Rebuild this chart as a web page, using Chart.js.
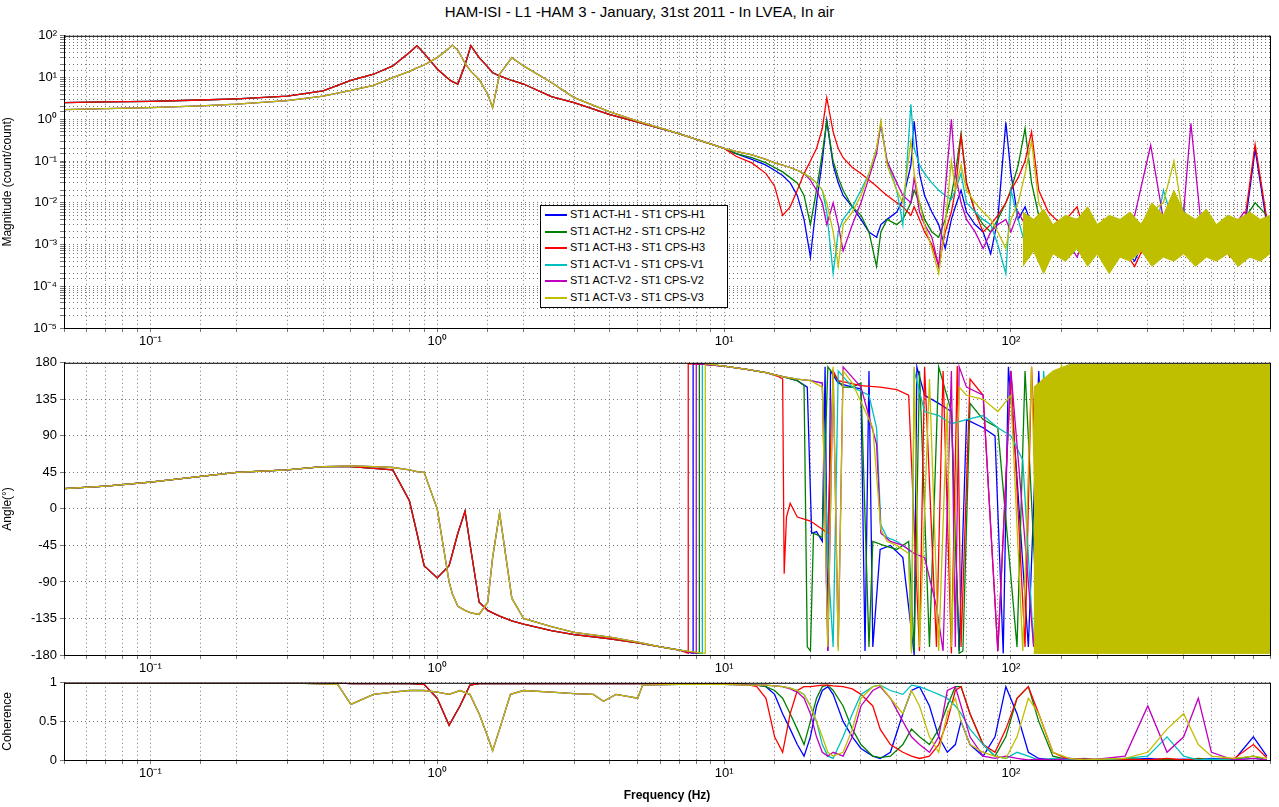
<!DOCTYPE html>
<html>
<head>
<meta charset="utf-8">
<script src="https://cdn.jsdelivr.net/npm/chart.js@4"></script>
<style>
  body{margin:0;background:#fff;font-family:"Liberation Sans",Arial,sans-serif;}
  #wrap{position:relative;width:1279px;height:807px;overflow:hidden;}
  canvas{position:absolute;left:0;}
  #title{position:absolute;top:3px;left:0;width:1279px;text-align:center;font-size:15px;color:#000;}
  #legend{position:absolute;left:540px;top:205px;width:186px;height:101px;background:#fff;border:1px solid #000;font-size:11px;}
  #legend div{height:16.5px;line-height:16.5px;padding-left:4px;white-space:nowrap;}
  #legend span{display:inline-block;width:22px;height:2px;vertical-align:middle;margin-right:3px;}
</style>
</head>
<body>
<div id="wrap">
  <div id="title">HAM-ISI - L1 -HAM 3 - January, 31st 2011 - In LVEA, In air</div>
  <canvas id="mag" width="1279" height="330" style="top:25px"></canvas>
  <canvas id="pha" width="1279" height="330" style="top:352px"></canvas>
  <canvas id="coh" width="1279" height="135" style="top:672px"></canvas>
  <div id="legend"></div>
</div>
<script>
// ===== Data =====
const seriesNames = ["ST1 ACT-H1 - ST1 CPS-H1","ST1 ACT-H2 - ST1 CPS-H2","ST1 ACT-H3 - ST1 CPS-H3",
                     "ST1 ACT-V1 - ST1 CPS-V1","ST1 ACT-V2 - ST1 CPS-V2","ST1 ACT-V3 - ST1 CPS-V3"];
const seriesColors = ["#0000ff","#008000","#ff0000","#00bfbf","#bf00bf","#bfbf00"];

// magnitude, low band (shared shape for H and V groups)
const fLow = [0.05,0.07,0.1,0.15,0.2,0.3,0.4,0.5,0.6,0.7,0.8,0.85,0.9,1.0,1.1,1.13,1.18,1.25,1.31,1.4,1.5,1.56,1.65,1.82,2,2.5,3,4,5,7,10];
const magLowH = [2.5,2.6,2.7,2.9,3.1,3.6,4.8,8.5,12,19,40,58,38,16,9,8,7,20,58,30,18,13,11,8.5,7,3.5,2.5,1.3,0.85,0.45,0.2];
const magLowV = [1.7,1.8,1.9,2.1,2.3,2.8,3.6,4.9,6.5,10,14,17,20,30,50,60,45,22,14,9,4,1.9,12,30,19,7.6,3.3,1.5,0.9,0.45,0.2];

// magnitude, high band
const fHigh = [11,12.5,14,15,16,17,18,19,20,21, 22,22.8,24,25,26,28,30,32,34,35.2, 37,40,42,44.8,46,48,50,53,56,59,
  62,64,67,70,75,80,85,90,96,100, 106,112,118,125,135,150,170,190,210,240, 270,307,340,370,400,424,460,520,580,650, 710,780];
const magH1 = [0.15,0.11,0.08,0.06,0.045,0.03,0.015,0.004,0.0005,0.01, 0.1,0.95,0.08,0.03,0.015,0.008,0.004,0.002,0.0015,0.003,
  0.004,0.006,0.012,0.08,0.9,0.05,0.015,0.006,0.003,0.0008, 0.004,0.008,0.02,0.006,0.003,0.002,0.0006,0.004,0.85,0.05,
  0.004,0.008,0.003,0.001,0.002,0.0006,0.002,0.0008,0.002,0.001, 0.0004,0.003,0.001,0.002,0.0008,0.003,0.0009,0.002,0.0007,0.002, 0.19,0.003];
const magH2 = [0.15,0.12,0.09,0.07,0.055,0.04,0.03,0.015,0.003,0.02, 0.15,0.9,0.1,0.04,0.02,0.008,0.005,0.002,0.0003,0.002,
  0.004,0.003,0.004,0.01,0.02,0.01,0.004,0.002,0.0015,0.004, 0.015,0.05,0.45,0.03,0.006,0.003,0.002,0.004,0.01,0.02,
  0.08,0.6,0.03,0.005,0.003,0.001,0.004,0.001,0.003,0.0008, 0.002,0.001,0.003,0.0009,0.004,0.002,0.003,0.0008,0.002,0.004, 0.01,0.005];
const magH3 = [0.13,0.09,0.05,0.025,0.005,0.008,0.02,0.05,0.1,0.2, 0.6,3.3,0.5,0.2,0.12,0.07,0.05,0.035,0.025,0.02,
  0.015,0.01,0.008,0.005,0.008,0.004,0.002,0.001,0.0003,0.002, 0.006,0.02,0.4,0.03,0.006,0.002,0.003,0.005,0.01,0.02,
  0.04,0.1,0.5,0.02,0.006,0.003,0.008,0.0006,0.004,0.001, 0.0003,0.002,0.0008,0.003,0.001,0.004,0.0007,0.002,0.0005,0.003, 0.25,0.004];
const magV1 = [0.17,0.14,0.11,0.09,0.08,0.07,0.06,0.05,0.04,0.03, 0.02,0.006,0.0002,0.002,0.004,0.008,0.02,0.05,0.2,0.7,
  0.1,0.02,0.003,2.3,0.2,0.08,0.05,0.03,0.02,0.015, 0.012,0.02,0.05,0.01,0.006,0.004,0.003,0.001,0.0002,0.02,
  0.004,0.001,0.003,0.0006,0.002,0.0007,0.002,0.0005,0.002,0.0006, 0.003,0.0004,0.02,0.003,0.008,0.0005,0.002,0.0007,0.003,0.0006, 0.002,0.0008];
const magV2 = [0.17,0.14,0.11,0.09,0.08,0.07,0.06,0.05,0.035,0.02, 0.01,0.003,0.01,0.003,0.0007,0.003,0.01,0.04,0.15,0.8,
  0.1,0.03,0.015,0.01,0.04,0.006,0.003,0.0015,0.0003,0.02, 1.0,0.05,0.01,0.004,0.002,0.0008,0.002,0.003,0.004,0.002,
  0.006,0.003,0.001,0.002,0.0006,0.002,0.0005,0.003,0.0008,0.002, 0.005,0.24,0.004,0.001,0.006,0.8,0.003,0.0008,0.002,0.006, 0.003,0.001];
const magV3 = [0.17,0.14,0.11,0.09,0.08,0.07,0.06,0.05,0.04,0.03, 0.02,0.01,0.002,0.0003,0.003,0.006,0.015,0.05,0.2,0.9,
  0.08,0.02,0.01,0.3,0.05,0.01,0.003,0.0008,0.0002,0.003, 0.1,0.02,0.08,0.02,0.01,0.006,0.004,0.002,0.0008,0.004,
  0.01,0.05,0.3,0.01,0.003,0.0009,0.003,0.0006,0.002,0.0007, 0.002,0.006,0.01,0.1,0.004,0.001,0.003,0.0006,0.002,0.0005, 0.002,0.0009];
// dense V3 noise floor envelope
const magBandF  = [110,120,130,140,155,170,185,200,220,240, 260,285,310,340,370,400,440,480,520,570, 620,680,740,800];
const magBandHi = [0.006,0.004,0.007,0.003,0.005,0.004,0.008,0.003,0.005,0.004, 0.006,0.003,0.01,0.005,0.02,0.006,0.004,0.007,0.003,0.005, 0.004,0.006,0.004,0.005];
const magBandLo = [0.0003,0.0007,0.0002,0.0006,0.0004,0.0008,0.0003,0.0006,0.0002,0.0005, 0.0004,0.0007,0.0003,0.0005,0.0004,0.0006,0.0003,0.0005,0.0004,0.0006, 0.0003,0.0005,0.0004,0.0006];

// phase, low band
const fPhLow = [0.05,0.07,0.1,0.15,0.2,0.3,0.4,0.5,0.6,0.7,0.8,0.85,0.9,1.0,1.1,1.13,1.18,1.25,1.31,1.4,1.5,1.56,1.65,1.82,2,2.5,3,4,5,6,7];
const phLowH = [25,28,33,40,45,48,52,52,50,48,10,-30,-70,-85,-70,-55,-30,-3,-50,-115,-125,-128,-132,-138,-142,-150,-155,-160,-165,-170,-174];
const phLowV = [25,28,33,40,45,48,52,53,52,51,48,46,45,0,-90,-105,-120,-125,-128,-130,-115,-60,-5,-110,-135,-145,-152,-158,-164,-170,-174];

// phase, high band [Hz, deg]
const phH1 = [[7.8,-178],[7.8,179],[8.5,178],[10,176],[12,172],[14,168],[16,163],[18,158],[19.5,150],[20.2,-30],[21,-28],[22,-40],[22.5,175],[23,-175],[23.5,170],[25,155],[28,150],[30,148],[31,-175],[32,170],[33,-170],[35,-50],[38,-45],[42,-60],[46,-180],[47,175],[50,140],[56,130],[62,120],[66,-175],[70,110],[80,100],[88,90],[94,-178],[98,175],[104,60],[115,-170],[125,170],[140,-175],[160,165],[180,-170],[200,175],[250,-165],[300,170],[350,-175],[400,160],[500,-170],[600,175],[700,-160],[780,170]];
const phH2 = [[8.2,-178],[8.2,179],[10,176],[12,172],[14,168],[16,163],[18,158],[19,152],[19.5,-170],[20,-175],[20.5,-30],[22,-35],[23,175],[26,150],[28,150],[30,155],[32,-170],[33,-40],[36,-45],[40,-50],[44,-40],[46,-175],[48,170],[52,-170],[56,175],[62,120],[66,-178],[68,-175],[72,130],[80,110],[90,100],[105,-170],[112,170],[125,-170],[140,165],[170,-175],[200,170],[260,-170],[320,165],[400,-175],[480,170],[560,-170],[650,175],[780,-165]];
const phH3 = [[7.5,-178],[7.5,179],[8.5,178],[10,176],[12,172],[14,168],[15.5,163],[16,160],[16.2,-80],[16.5,-10],[17,7],[18,-10],[20,-15],[22,-25],[23,-30],[24,170],[25,158],[30,152],[35,150],[40,147],[44,140],[48,-175],[50,175],[55,-170],[58,170],[62,-178],[65,176],[67,-170],[72,160],[80,140],[90,-175],[100,170],[112,-170],[118,175],[130,-178],[150,170],[180,-175],[220,165],[270,-170],[330,175],[400,-170],[480,165],[560,-175],[650,170],[780,-170]];
const phV1 = [[8.4,-178],[8.4,179],[10,176],[12,172],[14,168],[16,163],[18,160],[20,158],[22,155],[23,-60],[24,-170],[25,170],[28,150],[32,140],[34,100],[35.2,-20],[37,-35],[40,-40],[44,-50],[45,-175],[46,170],[50,120],[56,115],[62,105],[70,110],[80,115],[90,100],[100,90],[110,60],[120,-170],[130,170],[150,-175],[180,170],[220,-170],[270,175],[330,-165],[400,170],[480,-175],[560,165],[650,-170],[780,170]];
const phV2 = [[8,-178],[8,179],[10,176],[12,172],[14,168],[16,163],[18,160],[20,158],[22,155],[23,-175],[24,170],[25,-170],[26,175],[30,150],[34,80],[35.2,-30],[38,-40],[42,-45],[46,-55],[50,-60],[55,-120],[58,-175],[62,170],[64,-170],[66,175],[70,150],[80,140],[90,-175],[100,170],[120,-170],[140,165],[170,-175],[210,170],[260,-165],[300,175],[307,-170],[350,170],[424,-175],[450,170],[520,-170],[600,175],[700,-165],[780,170]];
const phV3 = [[8.6,-178],[8.6,179],[10,176],[12,172],[14,168],[16,163],[18,160],[20,158],[22,150],[23,-170],[24,175],[25,-175],[26,170],[28,155],[33,100],[35.2,-25],[37,-40],[40,-45],[44,-55],[45,-178],[46,175],[48,-170],[52,160],[56,-175],[60,130],[62,-170],[66,150],[70,140],[80,135],[90,120],[100,140],[110,-175],[118,175],[125,-178],[150,178],[200,-178],[300,178],[400,-178],[500,178],[600,-178],[700,178],[780,-178]];
// wrapped-phase envelope of V3 above ~120 Hz
const phBandF  = [120,140,160,800];
const phBandHi = [150,170,178,178];
const phBandLo = [-178,-178,-178,-178];

// coherence
const fCohLow = [0.05,0.1,0.2,0.3,0.45,0.5,0.6,0.7,0.8,0.9, 1.0,1.1,1.2,1.3,1.4,1.5,1.56,1.65,1.8,2, 2.5,3,3.5,3.8,4.2,5,5.2,7,10,12];
const cohLowH = [1,1,1,1,1,0.99,0.99,0.99,0.99,0.98, 0.8,0.45,0.7,0.97,0.99,0.99,0.99,0.99,0.99,0.99, 0.99,0.99,0.99,0.99,0.99,0.99,0.99,0.99,0.99,0.98];
const cohLowV = [1,1,1,1,0.98,0.72,0.85,0.88,0.9,0.9, 0.88,0.85,0.9,0.85,0.6,0.3,0.12,0.4,0.85,0.9, 0.88,0.86,0.85,0.76,0.85,0.8,0.97,0.98,0.98,0.97];
const fCohHigh = [13,14,15,16,17,18,19,20,21,22, 23,24,26,28,30,33,35,38,42,45, 48,52,56,60,64,67,72,80,88,96, 105,115,125,140,160,180,200,250,300,350, 400,450,500,600,700,780];
const cohH1 = [0.97,0.95,0.85,0.6,0.4,0.2,0.05,0.3,0.7,0.9, 0.95,0.85,0.5,0.3,0.15,0.05,0.02,0.1,0.6,0.9, 0.95,0.7,0.3,0.1,0.2,0.5,0.2,0.05,0.3,0.95, 0.6,0.1,0.02,0,0.02,0,0.01,0,0.02,0, 0.01,0,0.02,0,0.3,0.05];
const cohH2 = [0.97,0.95,0.9,0.8,0.6,0.4,0.2,0.5,0.8,0.95, 0.97,0.9,0.7,0.4,0.2,0.05,0.03,0.05,0.2,0.4, 0.3,0.2,0.4,0.7,0.95,0.95,0.6,0.2,0.05,0.3, 0.8,0.95,0.5,0.05,0,0.01,0,0.02,0,0.01, 0,0.02,0,0.01,0.05,0];
const cohH3 = [0.95,0.8,0.3,0.1,0.6,0.9,0.95,0.95,0.96,0.97, 0.97,0.96,0.95,0.92,0.85,0.7,0.4,0.2,0.1,0.05, 0.02,0.05,0.2,0.5,0.9,0.95,0.6,0.2,0.1,0.4, 0.8,0.95,0.6,0.1,0,0.02,0,0.01,0,0.02, 0,0.01,0,0.02,0.2,0.03];
const cohV1 = [0.97,0.97,0.96,0.95,0.93,0.9,0.85,0.7,0.5,0.2, 0.05,0.02,0.3,0.6,0.85,0.95,0.97,0.9,0.85,0.97, 0.95,0.9,0.85,0.8,0.7,0.6,0.4,0.2,0.05,0.02, 0.1,0.05,0,0.02,0,0.01,0,0.02,0.05,0.3, 0.05,0,0.01,0,0.02,0];
const cohV2 = [0.97,0.97,0.96,0.95,0.92,0.88,0.8,0.6,0.3,0.1, 0.05,0.1,0.05,0.3,0.7,0.9,0.95,0.8,0.5,0.3, 0.2,0.1,0.3,0.9,0.95,0.7,0.3,0.05,0.02,0.05, 0.02,0,0.01,0,0.02,0,0.01,0.05,0.7,0.1, 0.3,0.8,0.1,0,0.02,0];
const cohV3 = [0.97,0.97,0.96,0.95,0.93,0.9,0.85,0.7,0.5,0.3, 0.1,0.05,0.1,0.4,0.8,0.95,0.97,0.8,0.6,0.9, 0.7,0.3,0.1,0.6,0.8,0.5,0.2,0.1,0.05,0.02, 0.3,0.8,0.6,0.1,0.02,0,0.01,0.02,0.1,0.4, 0.6,0.2,0.05,0.02,0.05,0.02];

const xTickLabels = {"-1":"10\u207B\u00B9","0":"10\u2070","1":"10\u00B9","2":"10\u00B2"};
const yMagLabels = {"-5":"10\u207B\u2075","-4":"10\u207B\u2074","-3":"10\u207B\u00B3","-2":"10\u207B\u00B2","-1":"10\u207B\u00B9","0":"10\u2070","1":"10\u00B9","2":"10\u00B2"};
const cohTickLabels = {"0":"0","0.5":"0.5","1":"1"};

// ===== Helpers =====
const xy = (fs, vs) => fs.map((f,i)=>({x:f, y:vs[i]}));
const pr = arr => arr.map(p=>({x:p[0], y:p[1]}));
const decade = v => { const l=Math.log10(v); return Math.abs(l-Math.round(l))<1e-6 ? String(Math.round(l)) : null; };

const frame = { id:"frame", afterDraw(c){ const a=c.chartArea, ctx=c.ctx; ctx.save(); ctx.strokeStyle="#000"; ctx.lineWidth=1; ctx.strokeRect(a.left+0.5,a.top+0.5,a.width,a.height); ctx.restore(); } };

function line(label, color, data, extra){
  return Object.assign({label, data, borderColor:color, backgroundColor:color, borderWidth:1.3, pointRadius:0, tension:0, fill:false}, extra||{});
}
function band(lo, hi, color){
  return [line("lo", color, lo, {borderWidth:1}), line("hi", color, hi, {borderWidth:1, fill:"-1"})];
}

const gridOpt = () => ({color:"#555", lineWidth:0.8, tickLength:4});
const borderOpt = () => ({color:"#000", dash:[1,3]});

function xScale(bottomH){
  return { type:"logarithmic", min:0.05, max:800,
    grid:gridOpt(), border:borderOpt(),
    ticks:{autoSkip:false, maxRotation:0, color:"#000", font:{size:13}, padding:2,
      callback(v){ const d=decade(v); return d!==null && xTickLabels[d] ? xTickLabels[d] : ""; }},
    afterFit(s){ s.height=bottomH; } };
}
function yBase(title){
  return { grid:gridOpt(), border:borderOpt(),
    title:{display:true, text:title, color:"#000", font:{size:12}, padding:0},
    ticks:{color:"#000", font:{size:13}, autoSkip:false, padding:3},
    afterFit(s){ s.width=64; } };
}
function opts(x, y){
  return { responsive:false, animation:false, events:[],
    layout:{padding:{top:8, right:9, left:0, bottom:0}},
    plugins:{legend:{display:false}, tooltip:{enabled:false}},
    scales:{x, y} };
}

// ===== Magnitude =====
const magSeries = [magH1,magH2,magH3,magV1,magV2,magV3];
const magDs = [];
magDs.push(...band(xy(magBandF,magBandLo), xy(magBandF,magBandHi), seriesColors[5]));
for(let i=5;i>=0;i--){
  const low = i<3 ? magLowH : magLowV;
  magDs.push(line(seriesNames[i], seriesColors[i], xy(fLow,low).concat(xy(fHigh, magSeries[i]))));
}
magDs.unshift(magDs.splice(2,1)[0]);
const yMag = yBase("Magnitude (count/count)");
Object.assign(yMag, {type:"logarithmic", min:1e-5, max:1e2});
yMag.ticks.callback = v => { const d=decade(v); return d!==null && yMagLabels[d] ? yMagLabels[d] : ""; };
new Chart(document.getElementById("mag"), {type:"line", data:{datasets:magDs}, options:opts(xScale(27), yMag), plugins:[frame]});

// ===== Phase =====
const phSeries = [phH1,phH2,phH3,phV1,phV2,phV3];
const phDs = [];
phDs.push(...band(xy(phBandF,phBandLo), xy(phBandF,phBandHi), seriesColors[5]));
for(let i=5;i>=0;i--){
  const low = i<3 ? phLowH : phLowV;
  phDs.push(line(seriesNames[i], seriesColors[i], xy(fPhLow,low).concat(pr(phSeries[i]))));
}
phDs.unshift(phDs.splice(2,1)[0]);
const yPh = yBase("Angle(\u00B0)");
Object.assign(yPh, {type:"linear", min:-180, max:180});
yPh.ticks.stepSize = 45;
new Chart(document.getElementById("pha"), {type:"line", data:{datasets:phDs}, options:opts(xScale(27), yPh), plugins:[frame]});

// ===== Coherence =====
const cohSeries = [cohH1,cohH2,cohH3,cohV1,cohV2,cohV3];
const cohDs = [];
for(let i=5;i>=0;i--){
  const low = i<3 ? cohLowH : cohLowV;
  cohDs.push(line(seriesNames[i], seriesColors[i], xy(fCohLow,low).concat(xy(fCohHigh, cohSeries[i]))));
}
const yCoh = yBase("Coherence");
Object.assign(yCoh, {type:"linear", min:0, max:1});
yCoh.ticks.stepSize = 0.5;
yCoh.ticks.callback = v => cohTickLabels[String(v)] || "";
const xCoh = xScale(47);
xCoh.title = {display:true, text:"Frequency (Hz)", color:"#000", font:{size:12, weight:"bold"}, padding:{top:0}};
new Chart(document.getElementById("coh"), {type:"line", data:{datasets:cohDs}, options:opts(xCoh, yCoh), plugins:[frame]});

// ===== Legend =====
const lg = document.getElementById("legend");
seriesNames.forEach((n,i)=>{ const d=document.createElement("div"); d.innerHTML='<span style="background:'+seriesColors[i]+'"></span>'+n; lg.appendChild(d); });
</script>
</body>
</html>
